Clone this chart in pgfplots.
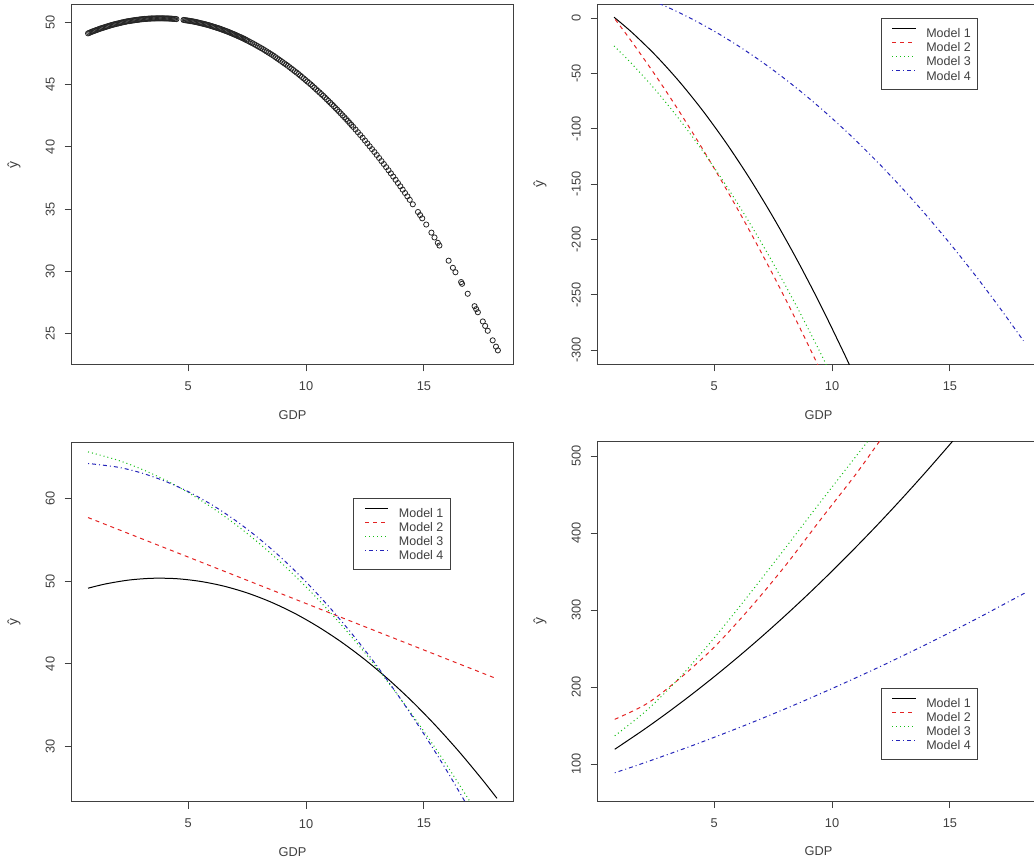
\documentclass[border=0pt]{standalone}
\usepackage{fontspec}
\setmainfont{Liberation Sans}
\usepackage{pgfplots}
\pgfplotsset{compat=1.18}
\definecolor{rred}{RGB}{228,35,35}
\definecolor{rgreen}{RGB}{20,190,20}
\definecolor{rblue}{RGB}{35,35,185}
\definecolor{rtext}{gray}{0.25}
\pgfplotsset{
  rpanel/.style={
    scale only axis, width=441.5pt, height=360pt,
    xmin=0.056, xmax=18.79, xtick={5,10,15},
    tick pos=left, tick align=outside, major tick length=7pt,
    axis line style={black!75, line width=1pt},
    tick style={black!75, line width=1pt},
    /pgf/number format/assume math mode=true,
    tick label style={font=\fontsize{12.8}{15}\selectfont, text=rtext},
    xticklabel style={anchor=north, inner sep=0pt},
    yticklabel style={rotate=90, anchor=south, inner sep=0pt},
    xticklabel shift=10.2pt, yticklabel shift=9.7pt,
    xlabel={GDP}, ylabel={ŷ},
    label style={font=\fontsize{12.8}{15}\selectfont, text=rtext, inner sep=0pt},
    xlabel style={at={(axis description cs:0.5,0)}, anchor=north, yshift=-45.8pt},
    ylabel style={at={(axis description cs:0,0.5)}, anchor=center, yshift=57.7pt,
      font=\fontsize{14}{16}\selectfont},
    legend cell align=left,
    legend style={anchor=north west, draw=black!75, line width=1pt, fill=white,
      inner xsep=6.7pt, inner ysep=7.3pt, column sep=10pt, row sep=0pt,
      font=\fontsize{12.5}{15}\selectfont, text=rtext,
      nodes={inner xsep=0pt, inner ysep=2.45pt, text height=9.2pt, text depth=0pt}},
    legend image code/.code={\path[draw=none] (0pt,0pt) -- (28pt,0pt);
      \draw[#1, line width=1pt] (4.7pt,4.5pt) -- (28pt,4.5pt);},
  },
  m1/.style={black, line width=1pt, smooth},
  m2/.style={rred, line width=1pt, smooth, dash pattern=on 4pt off 4pt},
  m3/.style={rgreen, line width=1pt, smooth, dash pattern=on 1pt off 3pt},
  m4/.style={rblue, line width=1pt, smooth, dash pattern=on 1pt off 3pt on 4pt off 3pt},
}
\begin{document}
\begin{tikzpicture}
% ---------------- panel 1 (top left) ----------------
\begin{axis}[rpanel, at={(71.7pt,500.7pt)}, anchor=south west,
  ymin=22.5, ymax=51.48, ytick={25,30,35,40,45,50},
  ylabel style={at={(axis description cs:0,0.5536)}}]
\addplot[only marks, mark=o, mark size=2.6pt, mark options={black!85, line width=0.8pt}] table {
x y
0.75 49.14
0.8 49.18
0.85 49.22
0.9 49.26
0.95 49.30
1.0 49.33
1.05 49.37
1.1 49.40
1.15 49.44
1.2 49.47
1.25 49.51
1.3 49.54
1.35 49.57
1.4 49.60
1.45 49.63
1.5 49.66
1.55 49.69
1.6 49.72
1.65 49.75
1.7 49.78
1.75 49.81
1.8 49.83
1.85 49.86
1.9 49.88
1.95 49.91
2.0 49.93
2.05 49.95
2.1 49.97
2.15 50.00
2.2 50.02
2.25 50.04
2.3 50.06
2.35 50.08
2.4 50.10
2.45 50.12
2.5 50.13
2.55 50.15
2.6 50.16
2.65 50.18
2.7 50.19
2.75 50.21
2.8 50.22
2.85 50.23
2.9 50.24
2.95 50.26
3.0 50.27
3.05 50.28
3.1 50.29
3.15 50.30
3.2 50.30
3.25 50.31
3.3 50.32
3.35 50.33
3.4 50.33
3.45 50.34
3.5 50.34
3.55 50.34
3.6 50.34
3.65 50.35
3.7 50.35
3.75 50.35
3.8 50.35
3.85 50.35
3.9 50.35
3.95 50.35
4.0 50.34
4.05 50.34
4.1 50.34
4.15 50.34
4.2 50.33
4.25 50.33
4.3 50.32
4.35 50.31
4.4 50.30
4.45 50.30
4.5 50.29
4.8 50.22
4.85 50.21
4.9 50.19
4.95 50.18
5.0 50.16
5.05 50.15
5.1 50.13
5.15 50.12
5.2 50.10
5.25 50.08
5.3 50.06
5.35 50.04
5.4 50.02
5.45 50.00
5.5 49.97
5.55 49.95
5.6 49.93
5.65 49.91
5.7 49.88
5.75 49.86
5.8 49.83
5.85 49.81
5.9 49.78
5.95 49.75
6.0 49.72
6.05 49.69
6.1 49.66
6.15 49.63
6.2 49.60
6.25 49.57
6.3 49.54
6.35 49.51
6.4 49.47
6.45 49.44
6.5 49.40
6.55 49.37
6.6 49.33
6.65 49.30
6.7 49.26
6.75 49.22
6.8 49.18
6.85 49.14
6.9 49.10
6.95 49.06
7.0 49.02
7.05 48.98
7.1 48.93
7.15 48.89
7.2 48.85
7.25 48.81
7.3 48.76
7.35 48.72
7.4 48.67
7.45 48.62
7.5 48.57
7.575 48.50
7.65 48.42
7.725 48.35
7.80 48.27
7.875 48.19
7.95 48.11
8.025 48.03
8.10 47.95
8.175 47.87
8.25 47.78
8.325 47.69
8.40 47.60
8.475 47.51
8.55 47.42
8.625 47.33
8.70 47.23
8.775 47.13
8.85 47.03
8.925 46.93
9.00 46.83
9.075 46.73
9.15 46.63
9.225 46.53
9.30 46.42
9.375 46.31
9.45 46.20
9.525 46.09
9.60 45.98
9.675 45.87
9.75 45.75
9.825 45.63
9.90 45.51
9.975 45.39
10.05 45.27
10.125 45.15
10.20 45.03
10.275 44.90
10.35 44.77
10.425 44.64
10.50 44.51
10.575 44.38
10.65 44.25
10.725 44.12
10.80 43.98
10.875 43.84
10.95 43.70
11.025 43.56
11.10 43.42
11.175 43.28
11.25 43.13
11.325 42.99
11.40 42.84
11.475 42.69
11.55 42.54
11.625 42.39
11.70 42.24
11.775 42.09
11.85 41.93
11.925 41.77
12.00 41.61
12.1 41.40
12.2 41.18
12.3 40.96
12.4 40.74
12.5 40.51
12.6 40.28
12.7 40.05
12.8 39.82
12.9 39.59
13.0 39.35
13.1 39.11
13.2 38.86
13.3 38.62
13.4 38.37
13.5 38.12
13.6 37.87
13.7 37.61
13.8 37.35
13.9 37.09
14.0 36.83
14.1 36.56
14.2 36.29
14.3 36.02
14.4 35.74
14.53 35.38
14.75 34.76
14.84 34.51
14.93 34.25
15.10 33.75
15.32 33.10
15.45 32.71
15.59 32.28
15.66 32.06
16.05 30.84
16.23 30.27
16.34 29.91
16.58 29.12
16.62 28.98
16.86 28.18
17.15 27.18
17.22 26.94
17.29 26.69
17.50 25.95
17.60 25.59
17.71 25.20
17.92 24.43
18.06 23.92
18.14 23.62
};
\end{axis}
% ---------------- panel 2 (top right) ----------------
\begin{axis}[rpanel, at={(597.7pt,500.7pt)}, anchor=south west, no markers,
  ymin=-312.9, ymax=12.7, ytick={0,-50,-100,-150,-200,-250,-300},
  yticklabels={0,-50,-100,-150,-200,-250,-300},
  legend style={at={(0.6407,0.9611)}}]
\addplot[m1] table {
x y
0.75 1
1.5 -12.57
2.5 -33.19
3.5 -56.72
4.5 -83.14
5.5 -112.47
6.5 -144.69
7.5 -179.82
8.5 -217.84
9.5 -258.77
10.5 -302.59
11.0 -325.59
};
\addplot[m2] table {
x y
0.8 -1
1.5 -21.08
2.5 -51.40
3.5 -83.67
4.5 -117.88
5.5 -154.03
6.5 -192.12
7.5 -232.14
8.5 -274.11
9.5 -318.02
10.0 -340.0
};
\addplot[m3] table {
x y
0.75 -25
1.5 -41.01
2.5 -64.63
3.5 -90.83
4.5 -119.61
5.5 -150.98
6.5 -184.94
7.5 -221.48
8.5 -260.61
9.5 -302.33
10.0 -324.1
};
\addplot[m4] table {
x y
0.75 28.33
2.0 19.15
3.0 10.26
4.0 0.00
5.0 -11.64
6.0 -24.65
7.0 -39.03
8.0 -54.79
9.0 -71.92
10.0 -90.43
11.0 -110.31
12.0 -131.56
13.0 -154.19
14.0 -178.19
15.0 -203.57
16.0 -230.32
17.0 -258.44
18.12 -291.57
};
\legend{Model 1,Model 2,Model 3,Model 4}
\end{axis}
% ---------------- panel 3 (bottom left) ----------------
\begin{axis}[rpanel, at={(71.7pt,63.3pt)}, anchor=south west, no markers, height=359pt,
  ymin=23.36, ymax=66.71, ytick={30,40,50,60},
  legend style={at={(0.6377,0.8468)}}]
\addplot[m1] table {
x y
0.75 49.14
1.5 49.66
2.5 50.13
3.5 50.34
4.5 50.29
5.5 49.97
6.5 49.40
7.5 48.57
8.5 47.48
9.5 46.13
10.5 44.51
11.5 42.64
12.5 40.51
13.5 38.12
14.5 35.47
15.5 32.55
16.5 29.38
17.5 25.95
18.1 23.77
};
\addplot[m2] table {
x y
0.75 57.67
18.1 38.2
};
\addplot[m3] table {
x y
0.75 65.60
2 64.61
3 63.54
4 62.24
5 60.69
6 58.89
7 56.86
8 54.58
9 52.06
10 49.30
11 46.30
12 43.05
13 39.56
14 35.83
15 31.86
16 27.64
17 23.18
17.5 20.86
};
\addplot[m4] table {
x y
0.75 64.20
2 63.76
3 63.07
4 62.08
5 60.80
6 59.22
7 57.33
8 55.15
9 52.68
10 49.90
11 46.82
12 43.45
13 39.78
14 35.81
15 31.54
16 26.97
17 22.10
};
\legend{Model 1,Model 2,Model 3,Model 4}
\end{axis}
% ---------------- panel 4 (bottom right) ----------------
\begin{axis}[rpanel, at={(597.7pt,64pt)}, anchor=south west, no markers, height=359pt,
  ymin=52.4, ymax=518.2, ytick={100,200,300,400,500},
  legend style={at={(0.6407,0.3156)}}]
\addplot[m1] table {
x y
0.78 119.5
2 144.7
3 166.6
4 189.6
5 213.7
6 238.9
7 265.2
8 292.6
9 321.1
10 350.7
11 381.4
12 413.1
13 446.0
14 480.0
15 515.1
15.5 533.1
};
\addplot[m2] table {
x y
0.78 158.4
2.17 179.2
3.58 212.5
5 252
6.5 302
8 357
9.5 417
11 476
12 518.5
12.5 538
};
\addplot[m3] table {
x y
0.78 137
2.17 171
3.58 214
5 264
6.5 321
8 380
9.5 440
11.5 518.6
12 538
};
\addplot[m4] table {
x y
0.78 89
2 101.6
4 123.5
6 146.9
8 171.8
10 198.3
12 226.2
14 255.7
16 286.7
18.19 322.4
};
\legend{Model 1,Model 2,Model 3,Model 4}
\end{axis}
\pgfresetboundingbox
\path[use as bounding box] (0pt,0pt) rectangle (1034pt,865pt);
\end{tikzpicture}
\end{document}
